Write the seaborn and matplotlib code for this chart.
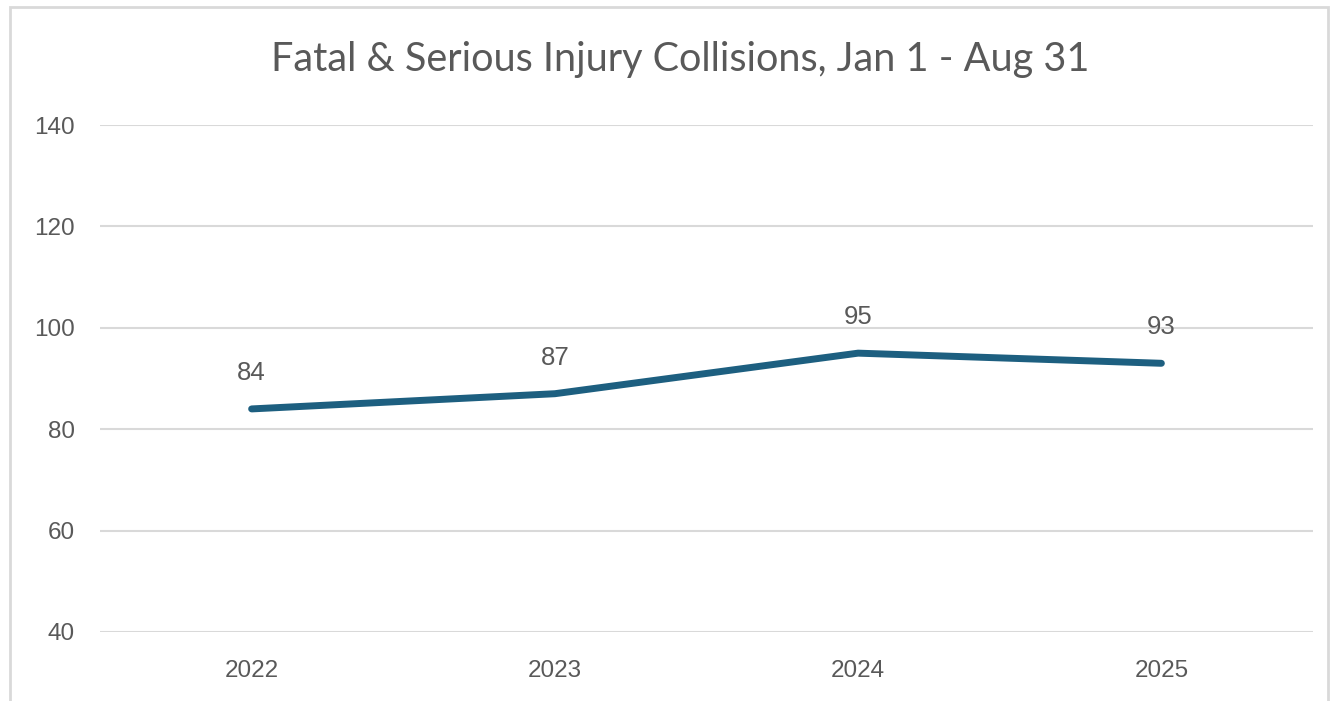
import matplotlib
matplotlib.use("Agg")
import matplotlib.pyplot as plt
import seaborn as sns
import pandas as pd

years = ["2022", "2023", "2024", "2025"]
collisions = [84, 87, 95, 93]
y_ticks = [40, 60, 80, 100, 120, 140]
title = "Fatal & Serious Injury Collisions, Jan 1 - Aug 31"

line_color = "#1d5f80"
text_color = "#595959"
grid_color = "#d9d9d9"

df = pd.DataFrame({"year": years, "collisions": collisions})

sns.set_style("white")
plt.rcParams["font.family"] = ["Liberation Sans", "DejaVu Sans"]

fig = plt.figure(figsize=(13.33, 7.01), dpi=100)
ax = fig.add_axes([100 / 1333, 1 - 632 / 701, 1213 / 1333, 507 / 701])

sns.lineplot(data=df, x="year", y="collisions", ax=ax, color=line_color,
             linewidth=5, solid_capstyle="round", sort=False)

for i, v in enumerate(collisions):
    ax.annotate(str(v), (i, v), xytext=(0, 26), textcoords="offset points",
                ha="center", va="center", fontsize=18.5, color=text_color)

ax.set_xlim(-0.5, 3.5)
ax.set_ylim(40, 140)
ax.set_yticks(y_ticks)
ax.yaxis.grid(True, color=grid_color, linewidth=1.5)
ax.set_axisbelow(True)
for s in ax.spines.values():
    s.set_visible(False)
ax.tick_params(axis="both", length=0, labelsize=17.5, labelcolor=text_color)
ax.tick_params(axis="y", pad=18)
ax.tick_params(axis="x", pad=20)
ax.set_xlabel("")
ax.set_ylabel("")

fig.text(680 / 1333, 1 - 60 / 701, title, ha="center", va="center",
         fontsize=28.5, color=text_color, family=["Lato", "DejaVu Sans"])

# chart border
border = plt.Rectangle((10 / 1333, -0.01), 1318 / 1333, 1 - 7 / 701 + 0.01,
                       transform=fig.transFigure, fill=False,
                       edgecolor=grid_color, linewidth=2)
fig.add_artist(border)

fig.savefig("out.png", dpi=100)
